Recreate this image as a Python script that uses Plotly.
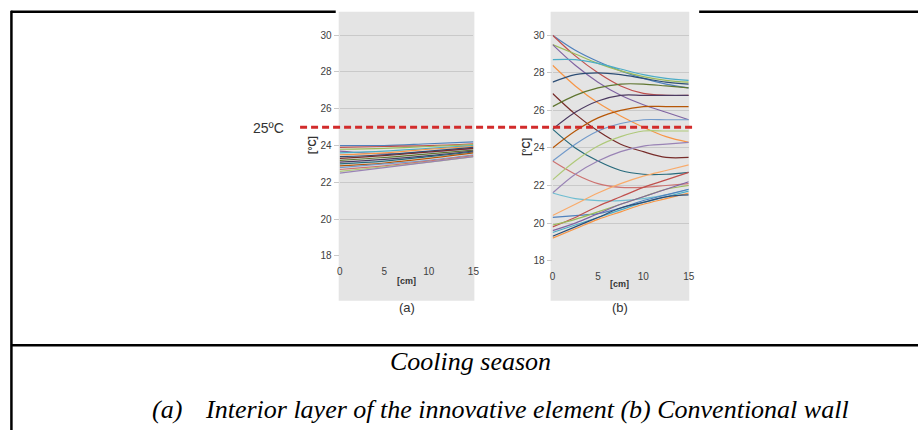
import plotly.graph_objects as go

# ---------------- data ----------------
depth_a = [0, 5, 10, 15]          # cm
temps_a = [
    [24.0, 24.0, 24.1, 24.2],
    [23.9, 23.95, 24.0, 24.1],
    [23.8, 23.85, 23.95, 24.05],
    [23.7, 23.55, 23.65, 23.85],
    [23.6, 23.7, 23.85, 24.0],
    [23.5, 23.6, 23.8, 23.95],
    [23.4, 23.5, 23.7, 23.9],
    [23.3, 23.45, 23.65, 23.85],
    [23.2, 23.35, 23.55, 23.75],
    [23.1, 23.25, 23.45, 23.7],
    [23.0, 23.15, 23.4, 23.65],
    [22.9, 23.05, 23.3, 23.6],
    [22.8, 23.0, 23.2, 23.5],
    [22.7, 22.9, 23.15, 23.45],
    [22.6, 22.85, 23.1, 23.4],
    [22.5, 22.8, 23.1, 23.4],
]

depth_b = [0, 2.5, 5, 7.5, 10, 12.5, 15]   # cm
temps_b = [
    [30.0, 29.2, 28.6, 28.1, 27.7, 27.4, 27.2],
    [30.0, 28.9, 28.0, 27.3, 26.9, 26.8, 26.8],
    [29.5, 29.0, 28.5, 28.1, 27.8, 27.6, 27.5],
    [29.5, 28.4, 27.5, 26.8, 26.3, 25.9, 25.5],
    [28.7, 28.7, 28.5, 28.2, 27.9, 27.7, 27.6],
    [28.4, 27.3, 26.4, 25.7, 25.1, 24.6, 24.3],
    [27.5, 27.9, 28.0, 27.9, 27.7, 27.5, 27.4],
    [26.9, 25.8, 24.9, 24.2, 23.8, 23.5, 23.5],
    [26.2, 26.8, 27.2, 27.4, 27.4, 27.3, 27.2],
    [25.0, 25.9, 26.5, 26.8, 26.8, 26.8, 26.8],
    [25.0, 24.0, 23.3, 22.8, 22.6, 22.6, 22.7],
    [24.0, 24.9, 25.6, 26.0, 26.2, 26.2, 26.2],
    [23.3, 24.2, 24.9, 25.3, 25.5, 25.5, 25.5],
    [23.3, 22.6, 22.1, 21.9, 21.9, 22.0, 22.1],
    [22.3, 23.3, 24.1, 24.6, 24.9, 24.9, 24.9],
    [21.6, 22.6, 23.3, 23.8, 24.1, 24.2, 24.3],
    [21.6, 21.3, 21.2, 21.2, 21.3, 21.5, 21.8],
    [20.4, 21.0, 21.6, 22.1, 22.5, 22.8, 23.1],
    [20.3, 20.4, 20.5, 20.8, 21.2, 21.5, 21.8],
    [19.8, 20.3, 20.9, 21.4, 21.9, 22.3, 22.7],
    [19.9, 20.2, 20.6, 21.0, 21.4, 21.8, 22.0],
    [19.6, 20.0, 20.5, 21.0, 21.4, 21.8, 22.2],
    [19.5, 19.9, 20.3, 20.7, 21.1, 21.4, 21.7],
    [19.2, 19.7, 20.2, 20.6, 21.0, 21.3, 21.6],
    [19.3, 19.8, 20.3, 20.8, 21.1, 21.4, 21.5],
]

y_ticks = [18, 20, 22, 24, 26, 28, 30]
x_ticks = [0, 5, 10, 15]
limit_temp = 25

palette = ["#4F81BD", "#C0504D", "#9BBB59", "#8064A2", "#4BACC6", "#F79646",
           "#2C4D75", "#772C2A", "#5F7530", "#4D3B62", "#276A7C", "#B65708",
           "#729ACA", "#CD7371", "#AFC97A", "#9983B5", "#6FBDD1", "#F9AB6B"]

W, H = 924, 436
def px(x): return x / W
def py(y): return 1 - y / H

fig = go.Figure()
for i, t in enumerate(temps_a):
    fig.add_trace(go.Scatter(x=depth_a, y=t, mode="lines", xaxis="x", yaxis="y",
                             line=dict(color=palette[i % len(palette)], width=1.2, shape="spline"),
                             showlegend=False, hoverinfo="skip"))
for i, t in enumerate(temps_b):
    fig.add_trace(go.Scatter(x=depth_b, y=t, mode="lines", xaxis="x2", yaxis="y2",
                             line=dict(color=palette[i % len(palette)], width=1.2, shape="spline"),
                             showlegend=False, hoverinfo="skip"))

tickfont = dict(family="Liberation Sans, Arial", size=10, color="#404040")
ax_common = dict(showline=False, zeroline=False, tickfont=tickfont)
xtick_style = dict(ticks="outside", ticklen=6, tickcolor="rgba(0,0,0,0)")

fig.update_layout(
    width=W, height=H, margin=dict(l=0, r=0, t=0, b=0),
    paper_bgcolor="white", plot_bgcolor="rgba(0,0,0,0)",
    xaxis=dict(domain=[px(340), px(475)], range=[0, 15], tickvals=x_ticks,
               showgrid=False, anchor="y", **xtick_style, **ax_common),
    yaxis=dict(domain=[py(259.5), py(12)], range=[18, 18 + (259.5 - 12) / 18.65],
               tickvals=y_ticks, showgrid=True, gridcolor="#c9c9c9", gridwidth=1,
               ticks="outside", ticklen=5, tickcolor="#c9c9c9", anchor="x", **ax_common),
    xaxis2=dict(domain=[px(555), px(692.5)], range=[0, 15], tickvals=x_ticks,
                showgrid=False, anchor="y2", **xtick_style, **ax_common),
    yaxis2=dict(domain=[py(264.3), py(12)], range=[18, 18 + (264.3 - 12) / 19.05],
                tickvals=y_ticks, showgrid=True, gridcolor="#c9c9c9", gridwidth=1,
                ticks="outside", ticklen=5, tickcolor="#c9c9c9", anchor="x2", **ax_common),
)

shapes = []
for x0, x1 in [(339, 476), (553, 693)]:
    shapes.append(dict(type="rect", xref="paper", yref="paper", x0=px(x0), x1=px(x1),
                       y0=py(305), y1=py(12), fillcolor="#e4e4e4", line=dict(width=0),
                       layer="below"))
blk = dict(color="black", width=2.5)
shapes += [
    dict(type="line", xref="paper", yref="paper", x0=px(8), x1=px(336), y0=py(12), y1=py(12), line=blk),
    dict(type="line", xref="paper", yref="paper", x0=px(703), x1=px(924), y0=py(12), y1=py(12), line=blk),
    dict(type="line", xref="paper", yref="paper", x0=px(8.5), x1=px(8.5), y0=py(11), y1=py(436), line=blk),
    dict(type="line", xref="paper", yref="paper", x0=px(8), x1=px(924), y0=py(350), y1=py(350), line=blk),
]
shapes.append(dict(type="line", xref="paper", yref="y", x0=px(300), x1=px(697),
                   y0=limit_temp, y1=limit_temp,
                   line=dict(color="#D22B2B", width=3, dash="7px,4px")))
fig.update_layout(shapes=shapes)

ann = []
lab = dict(family="Liberation Sans, Arial", color="#333333")
def note(text, x, y, font, xa="center", ya="middle", angle=0):
    ann.append(dict(text=text, x=px(x), y=py(y), xref="paper", yref="paper",
                    xanchor=xa, yanchor=ya, showarrow=False, textangle=angle, font=font))

for xc, yc in [(407.5, 285), (623, 288)]:
    note("<b>[cm]</b>", xc, yc, dict(size=9, **lab))
for xc, yc in [(313, 147), (529, 149)]:
    note("<b>[°C]</b>", xc, yc, dict(size=10, **lab), angle=-90)
for t, xc in [("(a)", 407.5), ("(b)", 623)]:
    note(t, xc, 312, dict(size=13, **lab))
note(f"{limit_temp}ºC", 268, 130, dict(size=14, **lab))
serif = dict(family="Liberation Serif, Times New Roman", color="black", size=26)
note("<i>Cooling season</i>", 472, 367, serif)
note("<i>(a)</i>", 148, 415, serif, xa="left")
note("<i>Interior layer of the innovative element (b) Conventional wall</i>", 202, 415, serif, xa="left")
fig.update_layout(annotations=ann)

fig.write_html("out.html", config={"displayModeBar": False},
               post_script="document.body.style.margin='0';document.body.style.overflow='hidden';")
